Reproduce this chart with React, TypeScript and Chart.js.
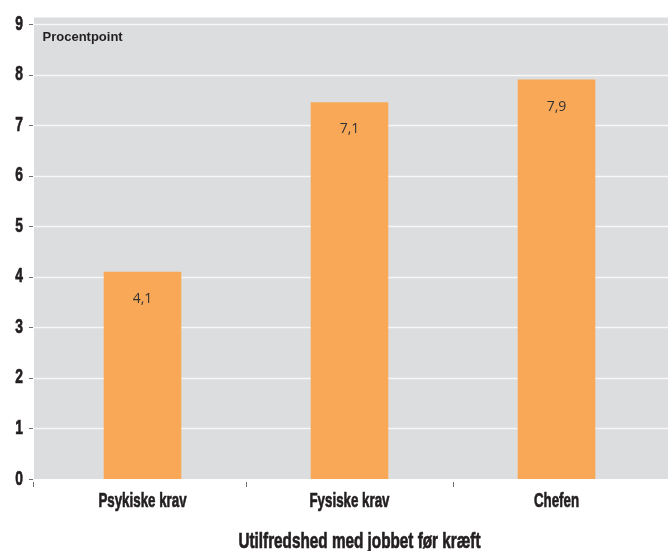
import React, { useEffect, useRef } from "react";
import { Chart, registerables } from "chart.js";

Chart.register(...registerables);

const categories = ["Psykiske krav", "Fysiske krav", "Chefen"];
const values = [4.1, 7.45, 7.9];
const valueLabels = ["4,1", "7,1", "7,9"];
const yTicks = [0, 1, 2, 3, 4, 5, 6, 7, 8, 9];
const unitLabel = "Procentpoint";
const xTitle = "Utilfredshed med jobbet før kræft";

const FONT = "'Liberation Sans', Arial, sans-serif";
const TEXT = "#231f20";
const TICK_COLOR = "#6d6e70";

function drawCondensed(ctx: CanvasRenderingContext2D, text: string, x: number, y: number, font: string, sx: number, align: CanvasTextAlign) {
  ctx.save();
  ctx.font = font;
  ctx.textAlign = align;
  ctx.textBaseline = "alphabetic";
  ctx.translate(x, y);
  ctx.scale(sx, 1);
  ctx.fillText(text, 0, 0);
  ctx.strokeStyle = TEXT;
  ctx.lineWidth = 0.7;
  ctx.lineJoin = "round";
  ctx.strokeText(text, 0, 0);
  ctx.restore();
}

const decorPlugin = {
  id: "decorPlugin",
  beforeDraw(chart: any) {
    const { ctx, chartArea } = chart;
    const yScale = chart.scales.y;
    const xScale = chart.scales.x;
    const grayLeft = chartArea.left - 5;
    ctx.save();
    ctx.fillStyle = "#dcdddf";
    ctx.fillRect(grayLeft, chartArea.top - 6.5, chart.width - grayLeft, chartArea.bottom - chartArea.top + 6.5);
    yTicks.forEach((v) => {
      const y = Math.round(yScale.getPixelForValue(v)) + 0.5;
      if (v > 0) {
        ctx.strokeStyle = "#f7f7f7";
        ctx.lineWidth = 1.5;
        ctx.beginPath();
        ctx.moveTo(grayLeft, y);
        ctx.lineTo(chart.width, y);
        ctx.stroke();
      }
      ctx.strokeStyle = TICK_COLOR;
      ctx.lineWidth = 1;
      ctx.beginPath();
      ctx.moveTo(grayLeft - 5, y);
      ctx.lineTo(grayLeft - 1, y);
      ctx.stroke();
    });
    const n = categories.length;
    const step = (chartArea.right - chartArea.left) / n;
    for (let i = 0; i < n; i++) {
      const x = i === 0 ? grayLeft - 0.5 : Math.round(xScale.getPixelForValue(i) - step / 2) + 0.5;
      ctx.beginPath();
      ctx.moveTo(x, chartArea.bottom + 3);
      ctx.lineTo(x, chartArea.bottom + 8);
      ctx.stroke();
    }
    ctx.restore();
  },
  afterDraw(chart: any) {
    const { ctx, chartArea } = chart;
    const yScale = chart.scales.y;
    const xScale = chart.scales.x;
    const grayLeft = chartArea.left - 5;
    ctx.save();
    ctx.fillStyle = TEXT;
    yTicks.forEach((v) => {
      const y = yScale.getPixelForValue(v);
      drawCondensed(ctx, String(v), grayLeft - 11, y + 5.5, "bold 21px " + FONT, 0.66, "right");
    });
    categories.forEach((c, i) => {
      drawCondensed(ctx, c, xScale.getPixelForValue(i), chartArea.bottom + 28, "bold 21px " + FONT, 0.635, "center");
    });
    drawCondensed(ctx, xTitle, (chartArea.left + chartArea.right) / 2 + 10, chartArea.bottom + 69, "bold 22px " + FONT, 0.695, "center");
    ctx.font = "bold 13px " + FONT;
    ctx.textAlign = "left";
    ctx.textBaseline = "alphabetic";
    ctx.fillText(unitLabel, grayLeft + 8.5, chartArea.top + 17);
    const meta = chart.getDatasetMeta(0);
    ctx.font = "14px 'Open Sans', 'Noto Sans', sans-serif";
    ctx.fillStyle = "#333333";
    ctx.textAlign = "center";
    ctx.textBaseline = "middle";
    meta.data.forEach((bar: any, i: number) => {
      ctx.fillText(valueLabels[i], bar.x, bar.y + 27);
    });
    ctx.restore();
  },
};

export default function App() {
  const ref = useRef<HTMLCanvasElement>(null);
  useEffect(() => {
    document.body.style.margin = "0";
    const chart = new Chart(ref.current!, {
      type: "bar",
      data: {
        labels: categories,
        datasets: [
          {
            data: values,
            backgroundColor: "#f8a857",
            barPercentage: 0.375,
            categoryPercentage: 1,
          },
        ],
      },
      options: {
        animation: false,
        responsive: false,
        layout: { padding: { top: 24, right: 8, left: 0, bottom: 0 } },
        plugins: { legend: { display: false }, tooltip: { enabled: false } },
        scales: {
          x: {
            grid: { display: false },
            border: { display: false },
            ticks: { display: false },
            afterFit(scale: any) { scale.height = 72; },
          },
          y: {
            min: 0,
            max: 9,
            grid: { display: false },
            border: { display: false },
            ticks: { display: false, stepSize: 1 },
            afterFit(scale: any) { scale.width = 39; },
          },
        },
      },
      plugins: [decorPlugin],
    });
    return () => chart.destroy();
  }, []);
  return <canvas ref={ref} width={668} height={551} style={{ display: "block" }} />;
}
